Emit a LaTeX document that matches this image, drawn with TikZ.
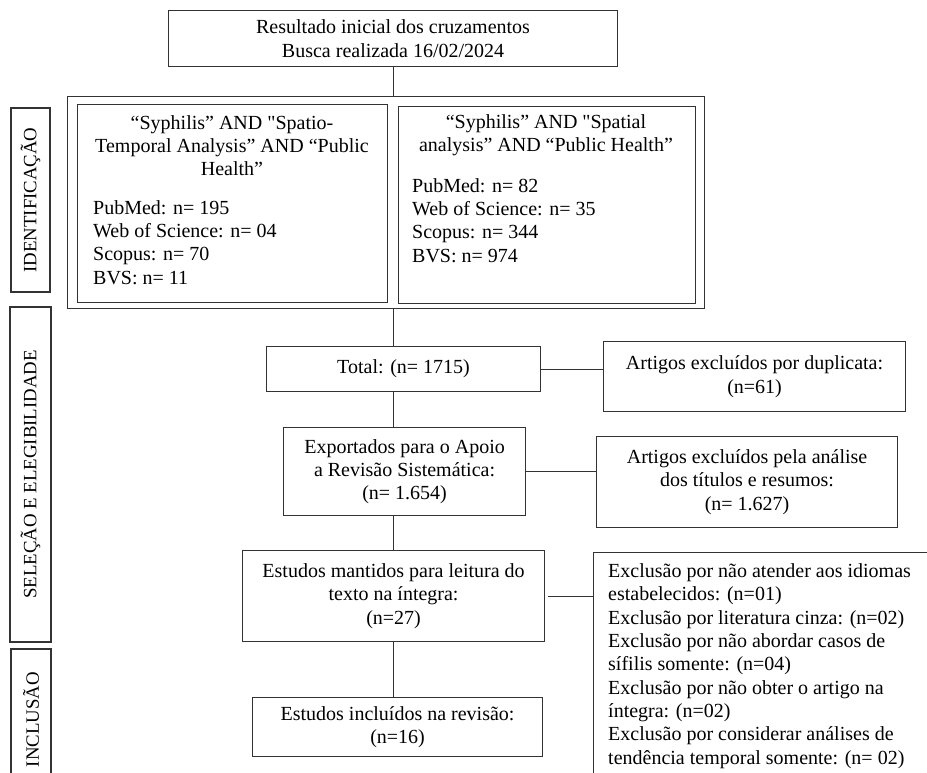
\documentclass[tikz,border=0pt]{standalone}
\usepackage{fontspec}
\setmainfont{Liberation Serif}
\newcommand\strq{\XeTeXglyph\XeTeXcharglyph"0022\relax}

\begin{document}
\begin{tikzpicture}[
  x=1pt,y=-1pt,
  box/.style={draw=black!80,line width=1.1pt,inner sep=0pt,anchor=north west,align=center,font=\fontsize{20}{23.3}\selectfont},
  label/.style={inner sep=0pt,font=\fontsize{20}{23.3}\selectfont},
  side/.style={draw=black!80,line width=1.1pt,inner sep=0pt,rotate=90,font=\fontsize{18.8}{22}\selectfont},
  every edge/.style={draw=black!80,line width=1.1pt},
]
  \useasboundingbox (0,0) rectangle (927,773);
  \clip (0,0) rectangle (927,773);

  % Phase labels
  \node[side,minimum width=184pt,minimum height=39pt] (ident) at (30.5,200) {IDENTIFICAÇÃO};
  \node[side,minimum width=335pt,minimum height=41pt] (selec) at (30.5,474.5) {SELEÇÃO E ELEGIBILIDADE};
  \node[side,minimum width=141pt,minimum height=40pt] (incl) at (31,719.5) {INCLUSÃO};

  % Search
  \node[box,minimum width=449pt,minimum height=56pt] (start) at (168,10)
    {Resultado inicial dos cruzamentos\\Busca realizada 16/02/2024};

  % Search strings (base anchor sits on the last line)
  \node[box,minimum width=637pt,minimum height=212pt] (group) at (67,96) {};
  \node[box,minimum width=310pt,minimum height=198pt] (qa) at (77,104) {};
  \node[box,minimum width=297pt,minimum height=197pt] (qb) at (398,106) {};
  \node[label,align=center,anchor=base] (qatitle) at (232,176)
    {“Syphilis” AND \strq Spatio-\\Temporal Analysis” AND “Public\\Health”};
  \node[label,align=left,anchor=base west] (qalist) at (93,284)
    {PubMed: n= 195\\Web of Science: n= 04\\Scopus: n= 70\\BVS: n= 11};
  \node[label,align=center,anchor=base] (qbtitle) at (546,152)
    {“Syphilis” AND \strq Spatial\\analysis” AND “Public Health”};
  \node[label,align=left,anchor=base west] (qblist) at (412,262)
    {PubMed: n= 82\\Web of Science: n= 35\\Scopus: n= 344\\BVS: n= 974};

  % Screening
  \node[box,minimum width=274pt,minimum height=45pt] (total) at (266,346) {Total: (n= 1715)};
  \node[box,minimum width=302pt,minimum height=70pt] (dup) at (603,341)
    {Artigos excluídos por duplicata:\\(n=61)};
  \node[box,minimum width=242pt,minimum height=88pt] (export) at (283,427)
    {Exportados para o Apoio\\a Revisão Sistemática:\\(n= 1.654)};
  \node[box,minimum width=301pt,minimum height=91pt] (titles) at (596,436)
    {Artigos excluídos pela análise\\dos títulos e resumos:\\(n= 1.627)};
  \node[box,minimum width=302pt,minimum height=91pt] (kept) at (242,550)
    {Estudos mantidos para leitura do\\texto na íntegra:\\(n=27)};
  \node[box,minimum width=360pt,minimum height=260pt] (excl) at (593,552) {};
  \node[label,align=left,anchor=base west] (excltxt) at (608,764)
    {Exclusão por não atender aos idiomas\\estabelecidos: (n=01)\\Exclusão por literatura cinza: (n=02)\\Exclusão por não abordar casos de\\sífilis somente: (n=04)\\Exclusão por não obter o artigo na\\íntegra: (n=02)\\Exclusão por considerar análises de\\tendência temporal somente: (n= 02)};

  % Inclusion
  \node[box,minimum width=290pt,minimum height=59pt] (final) at (252,697)
    {Estudos incluídos na revisão:\\(n=16)};

  % Edges: main flow
  \path (start.south) edge (start.south |- group.north);
  \path (group.south -| start.south) edge (total.north -| start.south);
  \path (total.south -| start.south) edge (export.north -| start.south);
  \path (export.south -| start.south) edge (kept.north -| start.south);
  \path (kept.south -| start.south) edge (final.north -| start.south);

  % Edges: exclusions
  \path (total.east) edge (total.east -| dup.west);
  \path (export.east) edge (export.east -| titles.west);
  \path ([xshift=3pt]kept.east) edge (kept.east -| excl.west);
\end{tikzpicture}
\end{document}
